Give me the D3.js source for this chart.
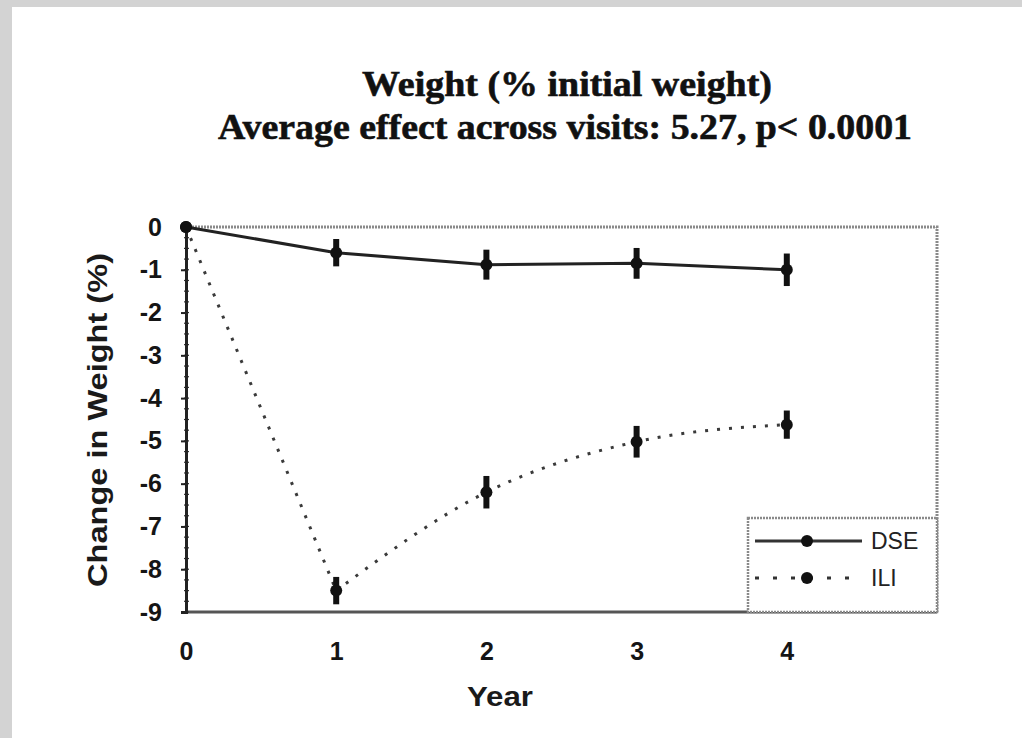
<!DOCTYPE html>
<html>
<head>
<meta charset="utf-8">
<script src="https://cdn.jsdelivr.net/npm/d3@7"></script>
<style>
  html, body { margin: 0; padding: 0; background: #d3d3d3; }
  svg { display: block; }
</style>
</head>
<body>
<svg id="chart" width="1022" height="738"></svg>
<script>
// Weight change by year for the two study arms
const years = [0, 1, 2, 3, 4];
const dseValues = [0, -0.6, -0.88, -0.85, -1.0];
const dseErrors = [0, 0.32, 0.35, 0.36, 0.38];
const iliValues = [0, -8.5, -6.2, -5.02, -4.62];
const iliErrors = [0, 0.32, 0.38, 0.37, 0.33];
const yTicks = [0, -1, -2, -3, -4, -5, -6, -7, -8, -9];
const xTicks = [0, 1, 2, 3, 4];
const titleLines = ["Weight (% initial weight)", "Average effect across visits: 5.27, p< 0.0001"];
const legendNames = ["DSE", "ILI"];

const svg = d3.select("#chart");

// white sheet inside the grey margin
svg.append("rect").attr("x", 12).attr("y", 7).attr("width", 1010).attr("height", 731).attr("fill", "#fff");

const plot = { left: 186, top: 227, right: 937, bottom: 612 };
const x = d3.scaleLinear().domain([0, 5]).range([plot.left, plot.right]);
const y = d3.scaleLinear().domain([-9, 0]).range([plot.bottom, plot.top]);

// title
const titleText = svg.append("g")
  .attr("font-family", "'Liberation Serif', 'Times New Roman', serif")
  .attr("font-weight", "bold")
  .attr("font-size", 35)
  .attr("fill", "#111")
  .attr("stroke", "#111").attr("stroke-width", 0.6);
titleText.append("text").attr("x", 567).attr("y", 96).attr("text-anchor", "middle")
  .attr("textLength", 410).attr("lengthAdjust", "spacingAndGlyphs").text(titleLines[0]);
titleText.append("text").attr("x", 565).attr("y", 139).attr("text-anchor", "middle")
  .attr("textLength", 694).attr("lengthAdjust", "spacingAndGlyphs").text(titleLines[1]);

// plot frame: dotted grey top and right edges
svg.append("path")
  .attr("d", `M${plot.left},${plot.top}H${plot.right}V${plot.bottom}`)
  .attr("fill", "none").attr("stroke", "#8a8a8a").attr("stroke-width", 3)
  .attr("stroke-dasharray", "2,1");

// bottom axis line
svg.append("line")
  .attr("x1", plot.left).attr("x2", plot.right).attr("y1", plot.bottom).attr("y2", plot.bottom)
  .attr("stroke", "#555").attr("stroke-width", 3);

// y axis with major and minor ticks
const minor = d3.range(0, 9.01, 0.25).map(v => -v);
svg.append("g").selectAll("line").data(minor).join("line")
  .attr("x1", plot.left - 2).attr("x2", plot.left + 3)
  .attr("y1", d => y(d)).attr("y2", d => y(d))
  .attr("stroke", "#333").attr("stroke-width", 1.2);

const yAxis = d3.axisLeft(y).tickValues(yTicks).tickSize(5).tickPadding(10).tickFormat(d3.format("d"));
const yg = svg.append("g").attr("transform", `translate(${plot.left},0)`).call(yAxis);
yg.select(".domain").attr("stroke", "#222").attr("stroke-width", 3);
yg.selectAll(".tick line").attr("stroke", "#222").attr("stroke-width", 2);
yg.selectAll(".tick text")
  .attr("font-family", "'Liberation Sans', Arial, sans-serif")
  .attr("font-weight", "bold").attr("font-size", 25).attr("fill", "#151515")
  .attr("x", -24).text(d => d === 0 ? "0" : "-" + Math.abs(d));

// x axis labels (no visible tick marks)
const xAxis = d3.axisBottom(x).tickValues(xTicks).tickSize(0).tickPadding(30).tickFormat(d3.format("d"));
const xg = svg.append("g").attr("transform", `translate(0,${plot.bottom})`).call(xAxis);
xg.select(".domain").remove();
xg.selectAll(".tick text")
  .attr("font-family", "'Liberation Sans', Arial, sans-serif")
  .attr("font-weight", "bold").attr("font-size", 25).attr("fill", "#151515");

// axis titles
svg.append("text")
  .attr("transform", "translate(107,420) rotate(-90)")
  .attr("text-anchor", "middle")
  .attr("font-family", "'Liberation Sans', Arial, sans-serif")
  .attr("font-weight", "bold").attr("font-size", 27).attr("fill", "#1a1a1a")
  .attr("textLength", 334).attr("lengthAdjust", "spacingAndGlyphs")
  .text("Change in Weight (%)");
svg.append("text")
  .attr("x", 500).attr("y", 706).attr("text-anchor", "middle")
  .attr("font-family", "'Liberation Sans', Arial, sans-serif")
  .attr("font-weight", "bold").attr("font-size", 27).attr("fill", "#1a1a1a")
  .attr("textLength", 66).attr("lengthAdjust", "spacingAndGlyphs")
  .text("Year");

// series
const series = [
  { name: legendNames[0], values: dseValues, errors: dseErrors, dash: null },
  { name: legendNames[1], values: iliValues, errors: iliErrors, dash: "3,9" }
];
const line = d3.line().x(d => x(d.x)).y(d => y(d.y));
const curved = d3.line().x(d => x(d.x)).y(d => y(d.y)).curve(d3.curveMonotoneX);

series.forEach((s, i) => {
  const pts = years.map((yr, j) => ({ x: yr, y: s.values[j], e: s.errors[j] }));
  const style = p => p.attr("fill", "none").attr("stroke", i === 0 ? "#222" : "#3a3a3a")
    .attr("stroke-width", 3).attr("stroke-dasharray", s.dash);
  if (i === 0) {
    svg.append("path").datum(pts).attr("d", line).call(style);
  } else {
    // straight drop to year 1, smoothed recovery afterwards
    svg.append("path").datum(pts.slice(0, 2)).attr("d", line).call(style);
    svg.append("path").datum(pts.slice(1)).attr("d", curved).call(style);
  }
  const g = svg.append("g");
  g.selectAll("line").data(pts.filter(p => p.e > 0)).join("line")
    .attr("x1", p => x(p.x)).attr("x2", p => x(p.x))
    .attr("y1", p => y(p.y - p.e)).attr("y2", p => y(p.y + p.e))
    .attr("stroke", "#111").attr("stroke-width", 6);
  g.selectAll("circle").data(pts).join("circle")
    .attr("cx", p => x(p.x)).attr("cy", p => y(p.y)).attr("r", 6)
    .attr("fill", "#111");
});

// legend
const lg = svg.append("g");
lg.append("rect").attr("x", 748).attr("y", 518).attr("width", 189).attr("height", 94)
  .attr("fill", "#fff").attr("stroke", "#8a8a8a").attr("stroke-width", 2.5)
  .attr("stroke-dasharray", "2,1");
series.forEach((s, i) => {
  const ly = 541 + i * 37;
  lg.append("line").attr("x1", 755).attr("x2", 862).attr("y1", ly).attr("y2", ly)
    .attr("stroke", "#333").attr("stroke-width", 3).attr("stroke-dasharray", s.dash ? "4,14" : null);
  lg.append("circle").attr("cx", 807).attr("cy", ly).attr("r", 6).attr("fill", "#111");
  lg.append("text").attr("x", 871).attr("y", ly + 8)
    .attr("font-family", "'Liberation Sans', Arial, sans-serif")
    .attr("font-size", 23).attr("fill", "#222").text(s.name);
});
</script>
</body>
</html>
